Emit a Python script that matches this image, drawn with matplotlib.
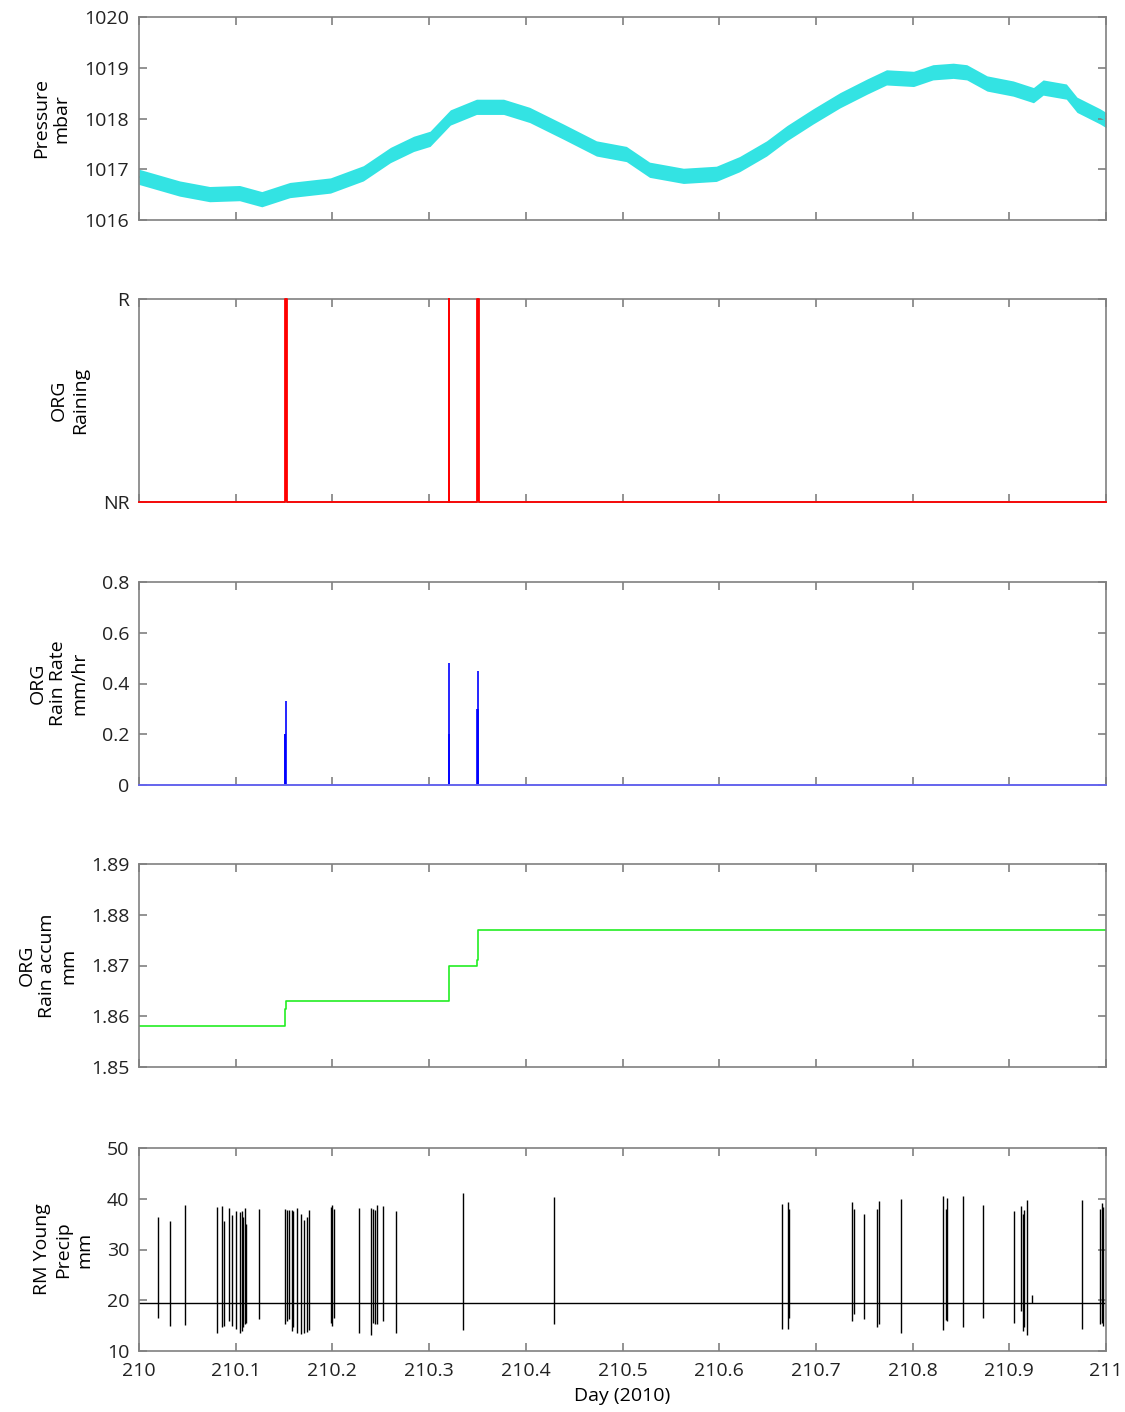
import numpy as np
import matplotlib
matplotlib.use("Agg")
import matplotlib.pyplot as plt

plt.rcParams['font.family'] = ['Open Sans', 'DejaVu Sans']
plt.rcParams['font.size'] = 14

# pressure (center of the noisy trace), day 210 -> 211
p_day = [210.000, 210.042, 210.073, 210.104, 210.127, 210.156, 210.198, 210.232,
         210.260, 210.284, 210.301, 210.322, 210.349, 210.377, 210.404, 210.439,
         210.473, 210.504, 210.528, 210.563, 210.597, 210.621, 210.649, 210.670,
         210.697, 210.725, 210.753, 210.773, 210.801, 210.821, 210.842, 210.856,
         210.877, 210.904, 210.925, 210.935, 210.959, 210.970, 210.994, 211.000]
p_val = [1016.85, 1016.62, 1016.51, 1016.53, 1016.41, 1016.59, 1016.68, 1016.92,
         1017.28, 1017.50, 1017.60, 1018.02, 1018.23, 1018.23, 1018.07, 1017.74,
         1017.41, 1017.30, 1016.99, 1016.87, 1016.91, 1017.10, 1017.41, 1017.71,
         1018.04, 1018.36, 1018.63, 1018.81, 1018.78, 1018.91, 1018.94, 1018.91,
         1018.69, 1018.59, 1018.46, 1018.61, 1018.53, 1018.27, 1018.04, 1017.97]
p_noise = 0.15  # half-width of the noise band, mbar

# ORG raining flag intervals (start, end)
rain_start = [210.1510, 210.3203, 210.3494]
rain_end = [210.1528, 210.3210, 210.3512]

# ORG rain rate spikes
rate_day = [210.1505, 210.1512, 210.1520, 210.3204, 210.3207, 210.3496, 210.3502, 210.3510]
rate_val = [0.20, 0.20, 0.33, 0.20, 0.48, 0.30, 0.30, 0.45]

# ORG rain accumulation (steps)
accum_day = [210.000, 210.1508, 210.1518, 210.3206, 210.3497, 210.3510, 211.000]
accum_val = [1.858, 1.8615, 1.863, 1.870, 1.871, 1.877, 1.877]

# RM Young precip: baseline and spikes (day, top, bottom)
rmy_base = 19.4
rmy_day = [210.0193, 210.0320, 210.0476, 210.0803, 210.0862, 210.0879, 210.0927, 210.0965,
           210.1003, 210.1044, 210.1062, 210.1079, 210.1093, 210.1107, 210.1241, 210.1513,
           210.1527, 210.1554, 210.1586, 210.1596, 210.1637, 210.1672, 210.1706, 210.1734,
           210.1761, 210.1986, 210.1999, 210.2013, 210.2278, 210.2402, 210.2423, 210.2437,
           210.2461, 210.2520, 210.2655, 210.3354, 210.4295, 210.6653, 210.6708, 210.6718,
           210.7370, 210.7394, 210.7494, 210.7628, 210.7649, 210.7883, 210.8311, 210.8342,
           210.8356, 210.8524, 210.8725, 210.9052, 210.9118, 210.9138, 210.9155, 210.9180,
           210.9231, 210.9755, 210.9938, 210.9959, 210.9973, 210.9997]
rmy_top = [36.4, 35.7, 38.7, 38.4, 38.5, 35.7, 38.2, 36.7,
           37.6, 37.4, 37.6, 36.4, 38.2, 35.1, 38.0, 37.9,
           37.7, 37.8, 37.8, 37.6, 38.2, 37.0, 35.8, 36.4,
           37.7, 38.4, 38.7, 38.0, 38.2, 38.2, 38.0, 37.7,
           38.7, 38.5, 37.5, 41.1, 40.3, 38.9, 39.3, 38.0,
           39.4, 37.9, 36.9, 38.0, 39.5, 40.0, 40.5, 38.0,
           40.2, 40.5, 38.8, 37.6, 38.5, 37.0, 37.7, 39.7,
           21.0, 39.7, 38.0, 39.1, 38.4, 36.3]
rmy_bot = [16.6, 15.0, 15.2, 13.6, 14.7, 15.0, 16.0, 15.0,
           14.3, 13.5, 14.0, 14.7, 15.4, 15.6, 16.3, 15.3,
           16.0, 16.3, 14.0, 14.7, 13.5, 13.3, 13.5, 13.7,
           14.2, 15.6, 15.0, 16.6, 13.5, 13.2, 15.6, 15.4,
           15.3, 16.0, 13.5, 14.1, 15.4, 14.3, 14.3, 16.6,
           16.0, 17.3, 16.3, 14.7, 15.3, 13.5, 14.1, 16.1,
           16.0, 14.7, 16.6, 15.6, 17.9, 14.0, 14.7, 13.2,
           19.4, 14.3, 15.3, 15.6, 15.0, 16.3]

x_ticks = np.round(np.arange(210, 211.001, 0.1), 1)
x_labels = ['210', '210.1', '210.2', '210.3', '210.4', '210.5',
            '210.6', '210.7', '210.8', '210.9', '211']

fig = plt.figure(figsize=(11.25, 14.12), dpi=100)
left, width, height = 139 / 1125, 967 / 1125, 203 / 1412
tops = [17, 299, 582, 864, 1148]
axes = [fig.add_axes([left, 1 - (t + 203) / 1412, width, height]) for t in tops]

spine_c = '#808080'
for ax in axes:
    ax.set_xlim(210, 211)
    ax.set_xticks(x_ticks)
    ax.set_xticklabels([])
    ax.tick_params(direction='in', length=6, width=1.2, color=spine_c,
                   top=True, right=True, labelsize=14, pad=7, labelcolor='#222222')
    for s in ax.spines.values():
        s.set_color(spine_c)
        s.set_linewidth(1.2)

# pressure
ax = axes[0]
pc = np.array(p_val)
ax.fill_between(p_day, pc - p_noise, pc + p_noise, color='#33e3e3', lw=0)
ax.plot(p_day, pc, color='#33e3e3', lw=1.5)
ax.set_ylim(1016, 1020)
ax.set_yticks([1016, 1017, 1018, 1019, 1020])
ax.set_ylabel('Pressure\nmbar', labelpad=10)

# raining flag
ax = axes[1]
ft, fv = [210.0], [0]
for s, e in zip(rain_start, rain_end):
    ft += [s, s, e, e]
    fv += [0, 1, 1, 0]
ft.append(211.0)
fv.append(0)
ax.plot(ft, fv, color='#ff0000', lw=1.3, clip_on=False, zorder=3)
ax.fill_between(ft, 0, fv, color='#ff0000', lw=0)
ax.set_ylim(0, 1)
ax.set_yticks([0, 1])
ax.set_yticklabels(['NR', 'R'])
ax.set_ylabel('ORG\nRaining', labelpad=10)

# rain rate
ax = axes[2]
ax.plot([210, 211], [0, 0], color='#6060ff', lw=1.2, clip_on=False, zorder=3)
ax.vlines(rate_day, 0, rate_val, color='#0000ff', lw=1.2)
ax.set_ylim(0, 0.8)
ax.set_yticks([0, 0.2, 0.4, 0.6, 0.8])
ax.set_yticklabels(['0', '0.2', '0.4', '0.6', '0.8'])
ax.set_ylabel('ORG\nRain Rate\nmm/hr', labelpad=10)

# rain accum
ax = axes[3]
ax.plot(accum_day, accum_val, color='#22ee22', lw=1.2, drawstyle='steps-post')
ax.set_ylim(1.85, 1.89)
ax.set_yticks([1.85, 1.86, 1.87, 1.88, 1.89])
ax.set_yticklabels(['1.85', '1.86', '1.87', '1.88', '1.89'])
ax.set_ylabel('ORG\nRain accum\nmm', labelpad=10)

# RM Young precip
ax = axes[4]
ax.plot([210, 211], [rmy_base, rmy_base], color='black', lw=1.0)
ax.vlines(rmy_day, rmy_bot, rmy_top, color='black', lw=1.0)
ax.set_ylim(10, 50)
ax.set_yticks([10, 20, 30, 40, 50])
ax.set_ylabel('RM Young\nPrecip\nmm', labelpad=10)
ax.set_xticklabels(x_labels)
ax.tick_params(axis='x', pad=8)
ax.set_xlabel('Day (2010)', labelpad=5)

fig.savefig('out.png', dpi=100)
